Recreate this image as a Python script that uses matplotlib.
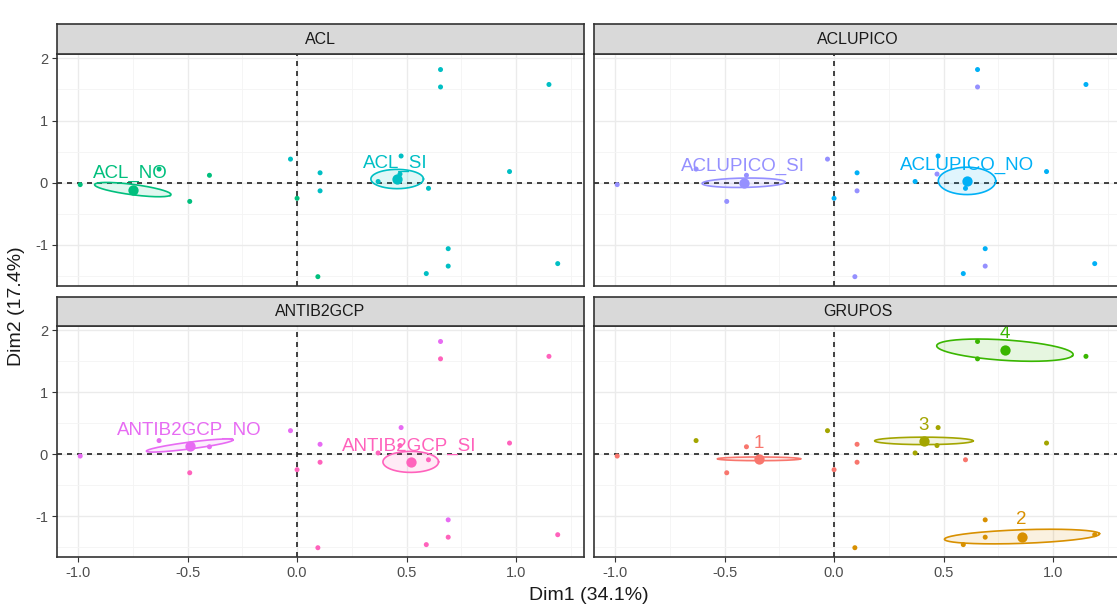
import numpy as np
import matplotlib
matplotlib.use("Agg")
import matplotlib.pyplot as plt

plt.rcParams['font.family'] = ['Liberation Sans', 'DejaVu Sans']

# ---------------- data ----------------
dim1 = [-0.99, -0.63, -0.49, -0.40, -0.03, 0.00, 0.105, 0.105, 0.095, 0.655, 0.655,
        1.15, 0.97, 1.19, 0.69, 0.69, 0.59, 0.475, 0.47, 0.37, 0.60]
dim2 = [-0.03, 0.22, -0.30, 0.12, 0.38, -0.25, 0.16, -0.13, -1.51, 1.82, 1.54,
        1.58, 0.18, -1.30, -1.06, -1.34, -1.46, 0.43, 0.14, 0.02, -0.09]

acl = ['ACL_NO', 'ACL_NO', 'ACL_NO', 'ACL_NO', 'ACL_SI', 'ACL_NO', 'ACL_SI', 'ACL_SI', 'ACL_NO',
       'ACL_SI', 'ACL_SI', 'ACL_SI', 'ACL_SI', 'ACL_SI', 'ACL_SI', 'ACL_SI', 'ACL_SI',
       'ACL_SI', 'ACL_SI', 'ACL_SI', 'ACL_SI']
aclupico = ['ACLUPICO_SI', 'ACLUPICO_SI', 'ACLUPICO_SI', 'ACLUPICO_SI', 'ACLUPICO_SI',
            'ACLUPICO_NO', 'ACLUPICO_NO', 'ACLUPICO_SI', 'ACLUPICO_SI', 'ACLUPICO_NO',
            'ACLUPICO_SI', 'ACLUPICO_NO', 'ACLUPICO_NO', 'ACLUPICO_NO', 'ACLUPICO_NO',
            'ACLUPICO_SI', 'ACLUPICO_NO', 'ACLUPICO_NO', 'ACLUPICO_SI', 'ACLUPICO_NO',
            'ACLUPICO_NO']
antib2gcp = ['ANTIB2GCP_NO', 'ANTIB2GCP_NO', 'ANTIB2GCP_SI', 'ANTIB2GCP_NO', 'ANTIB2GCP_NO',
             'ANTIB2GCP_SI', 'ANTIB2GCP_NO', 'ANTIB2GCP_SI', 'ANTIB2GCP_SI', 'ANTIB2GCP_NO',
             'ANTIB2GCP_SI', 'ANTIB2GCP_SI', 'ANTIB2GCP_SI', 'ANTIB2GCP_SI', 'ANTIB2GCP_NO',
             'ANTIB2GCP_SI', 'ANTIB2GCP_SI', 'ANTIB2GCP_NO', 'ANTIB2GCP_SI', 'ANTIB2GCP_SI',
             'ANTIB2GCP_SI']
grupos = ['1', '3', '1', '1', '3', '1', '1', '1', '2', '4', '4', '4', '3', '2', '2', '2', '2',
          '3', '3', '3', '1']

facets = ['ACL', 'ACLUPICO', 'ANTIB2GCP', 'GRUPOS']
facet_vars = [acl, aclupico, antib2gcp, grupos]

# category levels (colour order)
levels = ['1', '2', '3', '4', 'ACL_NO', 'ACL_SI', 'ACLUPICO_NO', 'ACLUPICO_SI',
          'ANTIB2GCP_NO', 'ANTIB2GCP_SI']
level_colors = ['#F8766D', '#D89000', '#A3A500', '#39B600', '#00BF7D', '#00BFC4',
                '#00B0F6', '#9590FF', '#E76BF3', '#FF62BC']

# group centroids, confidence ellipses (semi-axis a, semi-axis b, angle deg) and label positions
cent_names = ['ACL_NO', 'ACL_SI', 'ACLUPICO_SI', 'ACLUPICO_NO', 'ANTIB2GCP_NO', 'ANTIB2GCP_SI',
              '1', '2', '3', '4']
cent_facet = ['ACL', 'ACL', 'ACLUPICO', 'ACLUPICO', 'ANTIB2GCP', 'ANTIB2GCP',
              'GRUPOS', 'GRUPOS', 'GRUPOS', 'GRUPOS']
cent_x = [-0.75, 0.457, -0.413, 0.607, -0.49, 0.519, -0.343, 0.858, 0.41, 0.78]
cent_y = [-0.11, 0.06, 0.0, 0.03, 0.14, -0.124, -0.075, -1.33, 0.215, 1.68]
ell_a = [0.195, 0.12, 0.19, 0.131, 0.219, 0.127, 0.19, 0.357, 0.225, 0.322]
ell_b = [0.075, 0.155, 0.075, 0.22, 0.05, 0.17, 0.03, 0.109, 0.06, 0.16]
ell_ang = [-29, 0, 4, 0, 26, 0, 0, 7.7, 0, -17]
lab_x = [-0.76, 0.45, -0.417, 0.607, -0.49, 0.51, -0.343, 0.855, 0.407, 0.78]
lab_y = [0.15, 0.31, 0.257, 0.284, 0.38, 0.13, 0.18, -1.06, 0.47, 1.95]

xticks = [-1.0, -0.5, 0.0, 0.5, 1.0]
yticks = [-1, 0, 1, 2]

# ---------------- figure ----------------
W, H = 1117, 607
fig = plt.figure(figsize=(W / 100, H / 100), dpi=100)
fig.patch.set_facecolor('white')

col_lr = [(57, 584), (594, 1121)]
row_tb = [(54, 286), (326, 557)]
strip_tb = [(24, 54), (297, 326)]

color_of = dict(zip(levels, level_colors))


def px_axes(l, r, t, b):
    return fig.add_axes([l / W, 1 - b / H, (r - l) / W, (b - t) / H])


for i, (fname, fvar) in enumerate(zip(facets, facet_vars)):
    row, col = divmod(i, 2)
    l, r = col_lr[col]
    t, b = row_tb[row]
    ax = px_axes(l, r, t, b)
    ax.set_xlim(-1.096, 1.31)
    ax.set_ylim(-1.66, 2.07)
    ax.set_facecolor('white')
    ax.set_xticks(xticks)
    ax.set_yticks(yticks)
    ax.set_xticks([-0.75, -0.25, 0.25, 0.75, 1.25], minor=True)
    ax.set_yticks([-1.5, -0.5, 0.5, 1.5], minor=True)
    ax.grid(which='major', color='#EBEBEB', lw=1.0, zorder=0)
    ax.grid(which='minor', color='#F4F4F4', lw=0.6, zorder=0)
    ax.set_axisbelow(True)
    for sp in ax.spines.values():
        sp.set_color('#333333')
        sp.set_linewidth(1.2)
    ax.tick_params(which='minor', length=0)
    ax.tick_params(which='major', length=3.5, color='#333333', labelsize=10.5,
                   labelcolor='#4D4D4D', pad=3)
    if row == 0:
        ax.tick_params(axis='x', length=0, labelbottom=False)
    else:
        ax.set_xticklabels([f'{v:.1f}' for v in xticks])
    if col == 1:
        ax.tick_params(axis='y', length=0, labelleft=False)
    else:
        ax.set_yticklabels([str(v) for v in yticks])

    ax.axhline(0, color='#222222', lw=1.2, ls=(0, (3, 3)), zorder=1)
    ax.axvline(0, color='#222222', lw=1.2, ls=(0, (3, 3)), zorder=1)

    # individuals
    cols = [color_of[c] for c in fvar]
    ax.scatter(dim1, dim2, s=13, c=cols, zorder=3, linewidths=0)

    # ellipses, centroids and labels
    tt = np.linspace(0, 2 * np.pi, 240)
    for k, nm in enumerate(cent_names):
        if cent_facet[k] != fname:
            continue
        c = color_of[nm]
        th = np.radians(ell_ang[k])
        ex = cent_x[k] + ell_a[k] * np.cos(tt) * np.cos(th) - ell_b[k] * np.sin(tt) * np.sin(th)
        ey = cent_y[k] + ell_a[k] * np.cos(tt) * np.sin(th) + ell_b[k] * np.sin(tt) * np.cos(th)
        ax.fill(ex, ey, color=c, alpha=0.12, lw=0, zorder=2)
        ax.plot(ex, ey, color=c, lw=1.2, zorder=4)
        ax.scatter([cent_x[k]], [cent_y[k]], s=55, color=c, zorder=5, linewidths=0)
        ax.text(lab_x[k], lab_y[k], nm, color=c, fontsize=13.5, ha='center', va='center',
                zorder=6)

    # strip
    sl, sr = col_lr[col]
    st, sb = strip_tb[row]
    sax = px_axes(sl, sr, st, sb)
    sax.set_facecolor('#D9D9D9')
    sax.set_xticks([])
    sax.set_yticks([])
    for sp in sax.spines.values():
        sp.set_color('#333333')
        sp.set_linewidth(1.2)
    sax.text(0.5, 0.5, fname, transform=sax.transAxes, ha='center', va='center',
             fontsize=11.5, color='#1A1A1A')

fig.text(589 / W, 1 - 596 / H, 'Dim1 (34.1%)', ha='center', va='center', fontsize=14,
         color='#1A1A1A')
fig.text(17 / W, 1 - 306 / H, 'Dim2 (17.4%)', ha='center', va='center', fontsize=14,
         color='#1A1A1A', rotation=90)

fig.savefig('out.png', dpi=100, facecolor='white')
